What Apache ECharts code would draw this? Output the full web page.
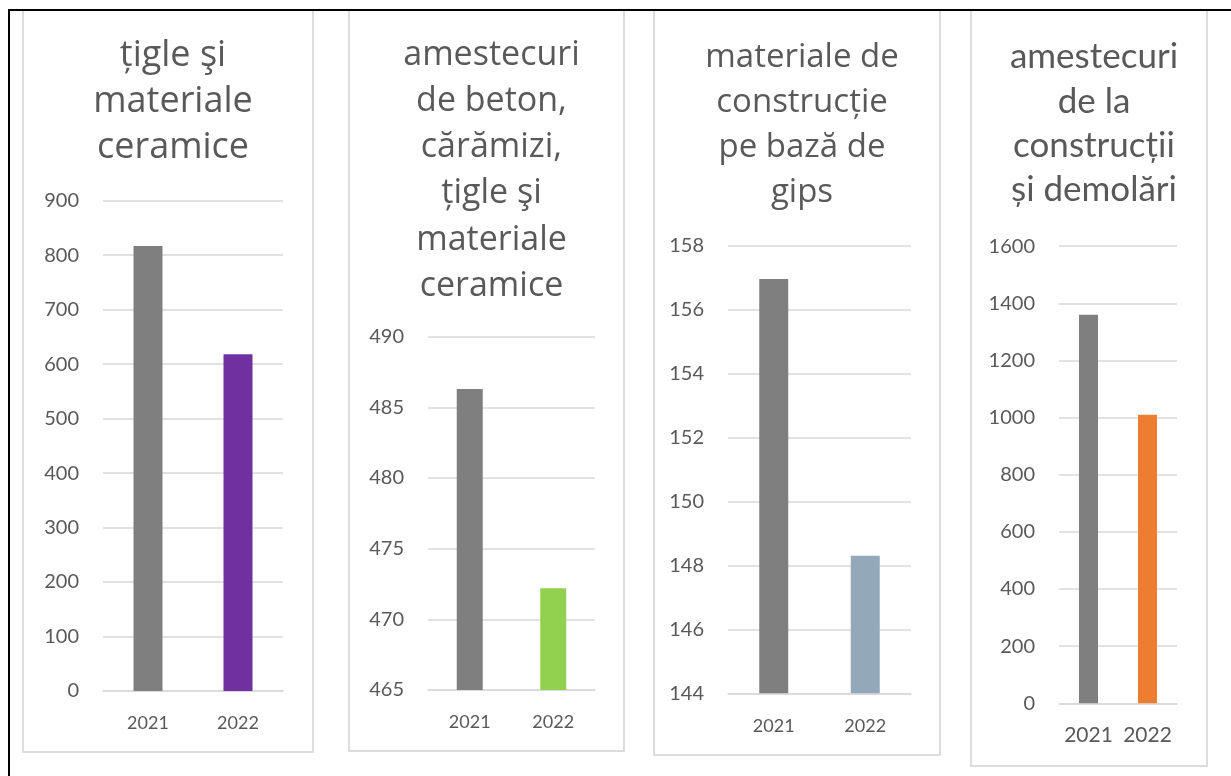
<!DOCTYPE html>
<html>
<head>
<meta charset="utf-8">
<script src="https://cdn.jsdelivr.net/npm/echarts@6/dist/echarts.min.js"></script>
<style>
	html, body { margin: 0; padding: 0; background: #fff; }
	#chart { width: 1231px; height: 776px; }
</style>
</head>
<body>
<div id="chart"></div>
<script>
// date
const years = ['2021', '2022'];
const titles = [
	'țigle şi\nmateriale\nceramice',
	'amestecuri\nde beton,\ncărămizi,\nțigle şi\nmateriale\nceramice',
	'materiale de\nconstrucție\npe bază de\ngips',
	'amestecuri\nde la\nconstrucții\nși demolări'
];
const valsTigle = [817, 618];
const valsBeton = [486.3, 472.2];
const valsGips = [156.95, 148.3];
const valsDemolari = [1360, 1010];
// axe
const axisMin = [0, 465, 144, 0];
const axisMax = [900, 490, 158, 1600];
const axisStep = [100, 5, 2, 200];

const seriesVals = [valsTigle, valsBeton, valsGips, valsDemolari];
const barColors = [
	['#7f7f7f', '#7030a0'],
	['#7f7f7f', '#92d050'],
	['#7f7f7f', '#93a9b9'],
	['#7f7f7f', '#ed7d31']
];

// layout per panou
const panels = [
	{ box: [23, 10, 290, 742], grid: [103, 200.7, 180, 490.3], barW: 29, titleTop: 28, lh: 46, fs: 36, font: 'Open Sans', tickFont: 'Lato', tick: 20, xLab: 18, xMargin: 23 },
	{ box: [349, 10, 275, 741], grid: [428, 336.7, 167, 353.3], barW: 26, titleTop: 27, lh: 46.2, fs: 34, font: 'Open Sans', tickFont: 'Lato', tick: 20, xLab: 18, xMargin: 23 },
	{ box: [654, 10, 286, 745], grid: [728, 245.3, 183, 448], barW: 29, titleTop: 30, lh: 45, fs: 33, font: 'Open Sans', tickFont: 'Lato', tick: 20, xLab: 18, xMargin: 24 },
	{ box: [971, 10, 236, 756], grid: [1059, 246.2, 118, 457.1], barW: 19, titleTop: 30, lh: 44.3, fs: 35, font: 'Lato', tickFont: 'Lato', tick: 20, xLab: 21, xMargin: 21 }
];

var chartDom = document.getElementById('chart');
var myChart = echarts.init(chartDom, null, { renderer: 'canvas', devicePixelRatio: 1 });

var graphics = [];
panels.forEach(p => {
	graphics.push({
		type: 'rect',
		shape: { x: p.box[0], y: p.box[1], width: p.box[2], height: p.box[3] },
		style: { fill: '#fff', stroke: '#dcdcdc', lineWidth: 2 },
		z: -10
	});
});
// chenar negru
graphics.push({ type: 'line', shape: { x1: 9, y1: 10, x2: 1231, y2: 10 }, style: { stroke: '#000', lineWidth: 2 }, z: 10 });
graphics.push({ type: 'line', shape: { x1: 9, y1: 9, x2: 9, y2: 776 }, style: { stroke: '#000', lineWidth: 2 }, z: 10 });

var option = {
	animation: false,
	backgroundColor: '#fff',
	graphic: graphics,
	title: panels.map((p, i) => ({
		text: titles[i],
		left: p.box[0] + p.box[2] / 2,
		top: p.titleTop,
		textAlign: 'center',
		textStyle: {
			color: '#595959',
			fontFamily: p.font,
			fontWeight: 'normal',
			fontSize: p.fs,
			lineHeight: p.lh
		}
	})),
	grid: panels.map(p => ({
		left: p.grid[0],
		top: p.grid[1],
		width: p.grid[2],
		height: p.grid[3],
		containLabel: false
	})),
	xAxis: panels.map((p, i) => ({
		type: 'category',
		gridIndex: i,
		data: years,
		axisTick: { show: false },
		axisLine: { show: true, lineStyle: { color: '#d9d9d9', width: 1.5 } },
		axisLabel: {
			interval: 0,
			hideOverlap: false,
			color: '#595959',
			fontFamily: p.tickFont,
			fontSize: p.xLab,
			margin: p.xMargin
		}
	})),
	yAxis: panels.map((p, i) => ({
		type: 'value',
		gridIndex: i,
		min: axisMin[i],
		max: axisMax[i],
		interval: axisStep[i],
		axisTick: { show: false },
		axisLine: { show: false },
		splitLine: { lineStyle: { color: '#d9d9d9', width: 1.5 } },
		axisLabel: {
			color: '#595959',
			fontFamily: p.tickFont,
			fontSize: p.tick,
			margin: 24,
			formatter: v => String(v)
		}
	})),
	series: panels.map((p, i) => ({
		type: 'bar',
		xAxisIndex: i,
		yAxisIndex: i,
		barWidth: p.barW,
		data: seriesVals[i].map((v, j) => ({
			value: v,
			itemStyle: { color: barColors[i][j] }
		}))
	}))
};

option && myChart.setOption(option);
</script>
</body>
</html>
